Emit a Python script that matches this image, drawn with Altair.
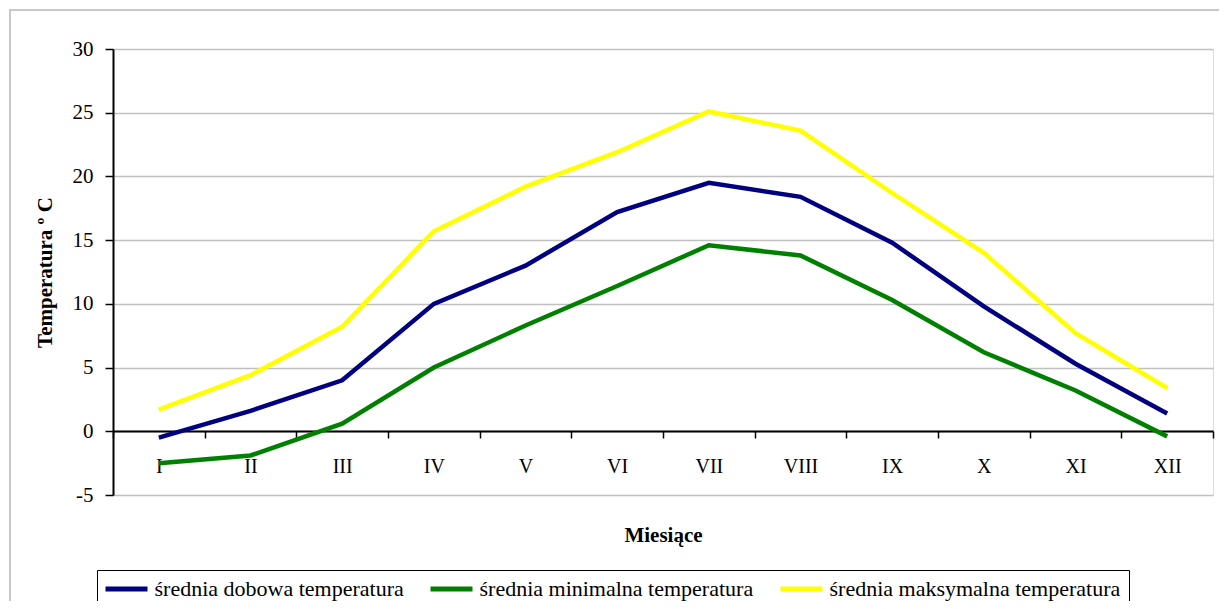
import altair as alt
import pandas as pd

months = ["I", "II", "III", "IV", "V", "VI", "VII", "VIII", "IX", "X", "XI", "XII"]
dobowa = [-0.5, 1.6, 4.0, 10.0, 13.0, 17.2, 19.5, 18.4, 14.8, 9.8, 5.3, 1.4]
minimalna = [-2.5, -1.9, 0.6, 5.0, 8.3, 11.4, 14.6, 13.8, 10.3, 6.2, 3.2, -0.4]
maksymalna = [1.7, 4.4, 8.2, 15.7, 19.2, 21.9, 25.1, 23.6, 18.7, 14.0, 7.7, 3.4]
series_names = ["średnia dobowa temperatura", "średnia minimalna temperatura", "średnia maksymalna temperatura"]
series_colors = ["#000080", "#008000", "#FFFF00"]
y_ticks = [-5, 0, 5, 10, 15, 20, 25, 30]

rows = []
for name, vals in zip(series_names, [dobowa, minimalna, maksymalna]):
    for m, v in zip(months, vals):
        rows.append({"Miesiąc": m, "Temperatura": v, "Seria": name})
df = pd.DataFrame(rows)

FONT = "Liberation Serif"

frame = alt.Chart(pd.DataFrame({"a": [0]})).mark_rect(
    fill="transparent", stroke="#c8c8c8", strokeWidth=2
).encode(
    x=alt.value(-103), x2=alt.value(1130), y=alt.value(-39), y2=alt.value(620)
)

lines = alt.Chart(df).mark_line(strokeWidth=4.5).encode(
    x=alt.X(
        "Miesiąc:N",
        sort=months,
        bandPosition=0.5,
        scale=alt.Scale(type="band", paddingInner=0, paddingOuter=0),
        axis=alt.Axis(
            title="Miesiące",
            titleFont=FONT, titleFontSize=21, titleFontWeight="bold", titleColor="black",
            titleY=104, titleBaseline="middle",
            labelFont=FONT, labelFontSize=20, labelColor="black", labelAngle=0,
            labelBaseline="middle", labelPadding=28,
            offset=-64, domainColor="black", domainWidth=2,
            tickColor="black", tickWidth=1.5, tickSize=7, tickBand="extent",
            grid=False,
        ),
    ),
    y=alt.Y(
        "Temperatura:Q",
        scale=alt.Scale(domain=[-5, 30], nice=False, zero=False),
        axis=alt.Axis(
            title="Temperatura º C",
            titleFont=FONT, titleFontSize=21, titleFontWeight="bold", titleColor="black",
            titleX=-68, titleBaseline="middle",
            values=y_ticks, labelExpr="'' + datum.value",
            labelFont=FONT, labelFontSize=21, labelColor="black", labelPadding=12,
            domainColor="black", domainWidth=2,
            tickColor="black", tickWidth=1.5, tickSize=8,
            grid=True, gridColor="#c0c0c0", gridWidth=1.5,
        ),
    ),
    color=alt.Color(
        "Seria:N",
        sort=series_names,
        scale=alt.Scale(domain=series_names, range=series_colors),
        legend=alt.Legend(
            title=None, orient="none", direction="horizontal",
            legendX=-16, legendY=521,
            symbolType="M-2.625,0H2.625", symbolSize=256, symbolStrokeWidth=5,
            symbolOffset=10.5,
            labelFont=FONT, labelFontSize=22, labelColor="black", labelLimit=0,
            labelOffset=17, columnPadding=16, padding=8,
            strokeColor="black", fillColor="white",
        ),
    ),
    order=alt.value(0),
)

chart = alt.layer(frame, lines).properties(
    width=1100,
    height=446,
    padding={"left": 105, "top": 41, "right": 6, "bottom": 106},
    autosize=alt.AutoSizeParams(type="none"),
).configure_view(stroke="#888888", strokeWidth=2).configure(background="white")

chart.save("out.html", embed_options={"renderer": "svg", "actions": False})
